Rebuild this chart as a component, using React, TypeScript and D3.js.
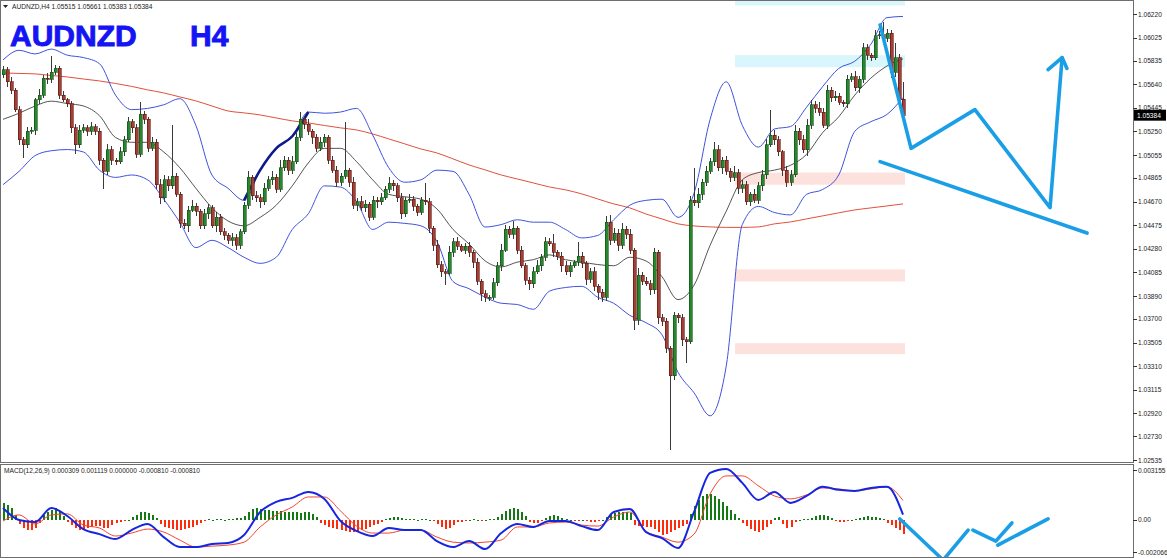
import React from 'react';
import * as d3 from 'd3';

const W = 1167;
const H = 558;

// ---------- candles (AUDNZD H4) ----------
const firstOpen = 1.0572;
const closes = [
  1.0576,1.0566,1.0559,1.0543,1.0518,1.0514,1.0525,1.0526,1.0551,1.0555,
  1.0569,1.0568,1.0574,1.0577,1.0555,1.0551,1.0548,1.0528,1.0514,1.0526,
  1.0528,1.0525,1.0529,1.0525,1.0501,1.0492,1.0510,1.0501,1.0500,1.0508,
  1.0518,1.0533,1.0528,1.0506,1.0539,1.0535,1.0511,1.0516,1.0481,1.0470,
  1.0485,1.0480,1.0488,1.0473,1.0449,1.0447,1.0460,1.0463,1.0459,1.0447,
  1.0457,1.0462,1.0447,1.0454,1.0442,1.0439,1.0435,1.0437,1.0431,1.0442,
  1.0464,1.0487,1.0472,1.0470,1.0467,1.0478,1.0485,1.0487,1.0477,1.0495,
  1.0501,1.0493,1.0500,1.0520,1.0535,1.0531,1.0525,1.0520,1.0511,1.0516,
  1.0520,1.0501,1.0493,1.0483,1.0488,1.0493,1.0483,1.0464,1.0467,1.0462,
  1.0465,1.0454,1.0468,1.0467,1.0470,1.0477,1.0482,1.0480,1.0470,1.0457,
  1.0468,1.0469,1.0463,1.0458,1.0468,1.0467,1.0445,1.0431,1.0415,1.0409,
  1.0408,1.0425,1.0434,1.0430,1.0427,1.0430,1.0425,1.0417,1.0401,1.0391,
  1.0388,1.0388,1.0400,1.0414,1.0427,1.0444,1.0440,1.0445,1.0427,1.0414,
  1.0402,1.0399,1.0409,1.0414,1.0421,1.0434,1.0432,1.0425,1.0422,1.0414,
  1.0409,1.0414,1.0417,1.0422,1.0416,1.0403,1.0409,1.0397,1.0392,1.0388,
  1.0450,1.0435,1.0441,1.0431,1.0444,1.0440,1.0427,1.0369,1.0406,1.0401,
  1.0399,1.0394,1.0425,1.0371,1.0368,1.0346,1.0323,1.0373,1.0371,1.0353,
  1.0351,1.0468,1.0466,1.0473,1.0483,1.0492,1.0500,1.0510,1.0495,1.0501,
  1.0492,1.0487,1.0491,1.0478,1.0481,1.0467,1.0473,1.0468,1.0480,1.0489,
  1.0514,1.0522,1.0518,1.0508,1.0493,1.0483,1.0489,1.0525,1.0518,1.0510,
  1.0530,1.0547,1.0544,1.0541,1.0530,1.0559,1.0553,1.0554,1.0549,1.0548,
  1.0568,1.0570,1.0561,1.0568,1.0594,1.0588,1.0586,1.0604,1.0605,1.0602,
  1.0606,1.0574,1.0586,1.05515,1.05384,
];
// wick lengths beyond the body, in pips
const upperWickPips = [
  3,2,4,2,3, 2,4,3,2,5, 3,4,13,3,2,
  3,2,2,3,4, 3,2,4,2,3, 2,5,3,2,4,
  3,4,2,3,10, 3,2,4,3,5, 4,3,42,3,2,
  4,3,5,3,2, 4,3,2,4,3, 3,2,4,3,2,
  3,5,2,4,3, 4,3,5,3,6, 4,3,5,4,6,
  3,4,2,3,4, 3,2,4,3,3, 40,2,4,3,5,
  3,2,4,3,4, 3,5,3,2,4, 3,4,3,2,3,
  14,3,2,4,3, 2,5,3,4,2, 3,4,2,3,2,
  3,2,4,3,5, 4,3,6,2,3, 2,3,4,5,3,
  4,3,8,2,3, 4,3,2,12,3, 2,3,4,2,3,
  5,6,4,3,5, 3,4,2,6,3, 4,3,4,2,3,
  3,2,3,2,3, 2,4,27,5,3, 4,3,6,4,3,
  4,3,5,3,4, 3,2,4,3,4, 5,21,4,3,2,
  3,4,5,3,4, 5,4,3,5,3, 4,3,4,3,2,
  4,3,5,3,4, 3,2,5,3,10, 4,3,12,3,14.6,
];
const lowerWickPips = [
  3,4,3,2,4, 11,3,2,4,3, 2,4,3,2,3,
  2,3,4,8,3, 2,4,3,3,4, 15,3,4,3,2,
  3,2,4,3,2, 4,3,2,4,5, 3,4,3,2,4,
  3,5,2,4,3, 3,4,2,5,3, 4,3,5,4,3,
  2,3,4,3,5, 3,2,4,3,2, 3,4,3,2,3,
  4,3,5,3,2, 4,3,2,4,3, 2,4,3,5,3,
  4,3,2,5,3, 2,3,4,3,4, 3,2,4,3,2,
  3,4,5,3,4, 10,2,4,3,2, 3,4,5,3,6,
  4,3,2,3,4, 2,3,4,3,2, 4,5,3,2,4,
  3,2,4,3,5, 3,4,2,3,4, 5,3,4,6,4,
  3,4,2,5,3, 4,3,8,4,3, 2,4,3,5,4,
  4,61,3,4,5, 17,2,3,4,5, 3,2,4,3,5,
  3,4,3,5,4, 3,4,2,3,4, 3,2,4,3,5,
  4,3,2,4,3, 5,3,4,3,2, 3,4,3,2,3,
  4,2,3,4,3, 4,3,2,3,4, 3,5,4,3,0,
];

// ---------- indicator lines, one value every 4 bars ----------
const lineStep = 4;
const bbUpper = [
  1.0584,1.0592,1.0589,1.0593,1.0588,1.0586,1.0581,1.0555,1.0543,1.0544,
  1.0547,1.0552,1.0530,1.0489,1.0478,1.0468,1.0493,1.0511,1.0521,1.0541,
  1.0540,1.0541,1.0544,1.0522,1.0495,1.0483,1.0485,1.0493,1.0492,1.0473,
  1.0446,1.0448,1.0452,1.0450,1.0450,1.0444,1.0437,1.0439,1.0452,1.0464,
  1.0468,1.0469,1.0454,1.0474,1.0535,1.0566,1.0530,1.0512,1.0527,1.0529,
  1.0545,1.0562,1.0577,1.0583,1.0597,1.0619,1.0620,
];
const bbMiddle = [
  1.0535,1.0540,1.0546,1.0550,1.0548,1.0546,1.0538,1.0520,1.0516,1.0516,
  1.0508,1.0495,1.0478,1.0462,1.0451,1.0447,1.0454,1.0464,1.0480,1.0499,
  1.0511,1.0511,1.0500,1.0485,1.0473,1.0471,1.0469,1.0461,1.0444,1.0432,
  1.0418,1.0413,1.0417,1.0419,1.0423,1.0419,1.0417,1.0415,1.0414,1.0421,
  1.0418,1.0405,1.0386,1.0398,1.0431,1.0459,1.0485,1.0491,1.0493,1.0497,
  1.0506,1.0524,1.0537,1.0555,1.0569,1.0579,1.0585,
];
const bbLower = [
  1.0481,1.0492,1.0505,1.0509,1.0510,1.0508,1.0493,1.0487,1.0489,1.0485,
  1.0469,1.0450,1.0429,1.0435,1.0429,1.0421,1.0416,1.0421,1.0444,1.0457,
  1.0480,1.0479,1.0467,1.0444,1.0450,1.0449,1.0447,1.0434,1.0401,1.0395,
  1.0388,1.0383,1.0382,1.0378,1.0393,1.0396,1.0397,1.0388,1.0383,1.0373,
  1.0367,1.0357,1.0326,1.0309,1.0290,1.0331,1.0448,1.0463,1.0458,1.0456,
  1.0473,1.0477,1.0489,1.0525,1.0533,1.0539,1.0553,
];
const maSlow = [
  1.05733,1.05729,1.05725,1.05712,1.05700,1.05683,1.05667,1.05646,1.05622,1.05593,
  1.05568,1.05535,1.05502,1.05460,1.05419,1.05403,1.05386,1.05361,1.05337,1.05320,
  1.05299,1.05279,1.05262,1.05229,1.05188,1.05147,1.05105,1.05072,1.05023,1.04973,
  1.04932,1.04890,1.04857,1.04824,1.04791,1.04767,1.04734,1.04692,1.04651,1.04618,
  1.04568,1.04527,1.04486,1.04469,1.04461,1.04457,1.04457,1.04461,1.04486,1.04502,
  1.04527,1.04552,1.04577,1.04601,1.04618,1.04634,1.04651,
];

// ---------- MACD(12,26,9), values in units of 0.00001 ----------
const macdMain = [
  69,0,-12,69,23,-52,-81,-109,-58,-23,
  -98,-155,-155,-138,-132,-86,46,104,127,161,
  121,-6,-63,-92,-46,-58,-58,-121,-155,-121,
  -167,-75,-23,-40,-6,-6,-35,-58,46,63,
  -69,-104,-161,46,270,293,213,115,161,98,
  138,190,173,167,184,190,31,
];
const macdSignal = [
  -6,29,-23,29,35,-29,-46,-92,-75,-52,
  -69,-115,-155,-150,-144,-127,-40,29,75,132,
  132,52,-35,-75,-75,-58,-58,-98,-127,-132,
  -127,-115,-40,-40,-17,-12,-29,-35,17,46,
  -63,-98,-127,-81,150,253,253,196,138,121,
  144,184,178,167,178,190,112,
];
const macdHist = [
  98,86,69,29,-23,-46,-58,-58,-46,-17,
  29,46,58,69,52,23,-12,-29,-46,-58,
  -58,-46,-40,-35,-35,-46,-46,-29,-17,-12,
  -6,0,17,29,46,46,40,29,12,-23,
  -40,-46,-52,-58,-58,-52,-46,-40,-29,-17,
  -6,6,0,6,6,0,6,6,12,12,
  23,46,63,69,63,58,58,52,52,52,
  46,46,46,46,40,46,46,35,17,-17,
  -29,-40,-46,-52,-58,-63,-69,-69,-63,-58,
  -52,-40,-29,-23,-12,6,12,17,17,12,
  6,6,6,0,6,6,0,-6,-23,-40,
  -52,-46,-29,-12,-12,-6,0,6,0,-6,
  0,6,6,17,35,52,63,69,63,46,
  23,-12,-17,-17,-6,12,23,29,23,12,
  6,0,-6,-6,0,-6,-12,-12,-6,0,
  17,29,40,46,46,46,40,-29,-35,-35,
  -40,-40,-52,-69,-86,-81,-69,-58,-46,-35,
  -23,35,81,115,138,150,150,138,121,104,
  81,58,35,12,-17,-35,-52,-63,-69,-58,
  -40,-23,12,17,-23,-46,-40,-12,0,6,
  6,12,23,29,29,23,12,-6,-12,-12,
  -6,0,6,12,17,23,17,17,12,6,
  -17,-29,-46,-58,-81,
];

// ---------- axes ----------
const priceTicks = [
  '1.06220','1.06025','1.05835','1.05640','1.05445','1.05250','1.05055','1.04865','1.04670','1.04475',
  '1.04280','1.04085','1.03890','1.03700','1.03505','1.03310','1.03115','1.02920','1.02730','1.02535',
];
const macdTickLabels = ['0.003155', '0.00', '-0.002066'];
const macdTickValues = [315.5, 0, -206.6];
const lastPrice = 1.05384;

// ---------- drawn zones (bar index range, price range) ----------
const zoneStart = [182.2, 182.2, 182.2, 182.2, 182.2];
const zoneEnd = [224.5, 224.5, 224.5, 224.5, 224.5];
const zoneHigh = [1.0634, 1.0588, 1.0491, 1.0411, 1.0350];
const zoneLow = [1.0629, 1.0578, 1.0481, 1.0401, 1.0341];
const zoneKind = ['supply', 'supply', 'demand', 'demand', 'demand'];

// ---------- hand-drawn projection lines ([bar index, value]) ----------
const projMainA: [number, number][] = [[218.3, 1.0613], [226, 1.0511], [241.9, 1.0543], [260.6, 1.0462], [263.6, 1.0586]];
const projMainArrow: [number, number][] = [[260.1, 1.0576], [263.6, 1.0586], [264.8, 1.0577]];
const projMainB: [number, number][] = [[218.3, 1.0500], [269.8, 1.0441]];
const projMacdA: [number, number][] = [[223.2, 6], [234, -230], [240.2, -58]];
const projMacdB: [number, number][] = [[241.4, -58], [247.1, -121], [251.1, -17]];
const projMacdC: [number, number][] = [[247.6, -144], [260.1, 6]];

const FONT = "'Liberation Sans', Arial, sans-serif";

export default function App() {
  const x = d3.scaleLinear().domain([0, 224]).range([3, 903]);
  const y = d3.scaleLinear().domain([1.02535, 1.0622]).range([460, 14]);
  const ym = d3.scaleLinear().domain([-206.6, 315.5]).range([556, 465]);

  const sampled = (arr: number[], sc: (v: number) => number) =>
    d3.line<number>().x((_, k) => x(k * lineStep)).y((v) => sc(v)).curve(d3.curveMonotoneX)(arr) || '';
  const poly = (pts: [number, number][], sc: (v: number) => number) =>
    d3.line<[number, number]>().x((p) => x(p[0])).y((p) => sc(p[1]))(pts) || '';

  const thickUpper = bbUpper.slice(15, 20);
  const thickPath = d3.line<number>().x((_, k) => x((k + 15) * lineStep)).y((v) => y(v)).curve(d3.curveMonotoneX)(thickUpper) || '';

  const candles = closes.map((c, i) => {
    const o = i === 0 ? firstOpen : closes[i - 1];
    const top = Math.max(o, c);
    const bot = Math.min(o, c);
    const hi = top + upperWickPips[i] * 0.0001;
    const lo = bot - lowerWickPips[i] * 0.0001;
    const cx = Math.round(x(i));
    const yTop = y(top);
    const yBot = y(bot);
    const bull = c >= o;
    return (
      <g key={i}>
        <line x1={cx + 0.5} x2={cx + 0.5} y1={y(hi)} y2={y(lo)} stroke="#3a3a3a" strokeWidth={1} />
        <rect x={cx - 1} y={yTop} width={3} height={Math.max(1, yBot - yTop)}
          fill={bull ? '#2a8530' : '#9e4238'} stroke={bull ? '#0a4f0d' : '#650c06'} strokeWidth={0.6} />
      </g>
    );
  });

  const hist = macdHist.map((v, i) => {
    const cx = Math.round(x(i));
    const y0 = ym(0);
    const y1 = ym(v);
    return (
      <rect key={i} x={cx - 0.5} y={Math.min(y0, y1)} width={2} height={Math.max(0.8, Math.abs(y1 - y0))}
        fill={v >= 0 ? '#157a15' : '#ff2a0a'} />
    );
  });

  const projStyle = { fill: 'none', stroke: '#1a9fe6', strokeWidth: 3.6, strokeLinecap: 'round' as const, strokeLinejoin: 'round' as const };

  return (
    <svg width={W} height={H} style={{ position: 'absolute', left: 0, top: 0, background: '#fff' }} fontFamily={FONT}>
      <defs>
        <clipPath id="mainClip"><rect x={1} y={1} width={1132} height={461} /></clipPath>
        <clipPath id="macdClip"><rect x={1} y={465} width={1132} height={93} /></clipPath>
      </defs>
      <rect x={0} y={0} width={W} height={H} fill="#fff" />

      {/* main panel */}
      <g clipPath="url(#mainClip)">
        {zoneStart.map((s, k) => (
          <rect key={k} x={x(s)} y={y(zoneHigh[k])} width={x(zoneEnd[k]) - x(s)} height={y(zoneLow[k]) - y(zoneHigh[k])}
            fill={zoneKind[k] === 'supply' ? '#d8f6fb' : '#fde1dc'} />
        ))}
        <path d={sampled(maSlow, y)} fill="none" stroke="#e2503c" strokeWidth={1} />
        <path d={sampled(bbUpper, y)} fill="none" stroke="#4052dc" strokeWidth={1} />
        <path d={thickPath} fill="none" stroke="#0e1a8c" strokeWidth={2.6} />
        <path d={sampled(bbLower, y)} fill="none" stroke="#4052dc" strokeWidth={1} />
        <path d={sampled(bbMiddle, y)} fill="none" stroke="#2a2a2a" strokeWidth={0.8} />
        <g shapeRendering="crispEdges">{candles}</g>
        <path d={poly(projMainA, y)} {...projStyle} />
        <path d={poly(projMainArrow, y)} {...projStyle} />
        <path d={poly(projMainB, y)} {...projStyle} />
      </g>

      {/* MACD panel */}
      <g clipPath="url(#macdClip)">
        <g shapeRendering="crispEdges">{hist}</g>
        <path d={sampled(macdSignal, ym)} fill="none" stroke="#f0442e" strokeWidth={1} />
        <path d={sampled(macdMain, ym)} fill="none" stroke="#1626e0" strokeWidth={2} />
        <path d={poly(projMacdA, ym)} {...projStyle} />
        <path d={poly(projMacdB, ym)} {...projStyle} />
        <path d={poly(projMacdC, ym)} {...projStyle} />
      </g>

      {/* panel borders */}
      <g shapeRendering="crispEdges" fill="none" stroke="#6e6e6e">
        <rect x={0.5} y={0.5} width={1133} height={462} />
        <rect x={0.5} y={464.5} width={1133} height={93} />
      </g>

      {/* price axis */}
      <g fontSize={6.6} fill="#222">
        {priceTicks.map((t) => (
          <g key={t}>
            <line x1={1133} x2={1137} y1={Math.round(y(+t)) + 0.5} y2={Math.round(y(+t)) + 0.5} stroke="#333" />
            <text x={1138} y={y(+t)} dominantBaseline="central">{t}</text>
          </g>
        ))}
        <rect x={1134} y={y(lastPrice) - 5.5} width={32} height={11} fill="#000" />
        <text x={1137} y={y(lastPrice)} dominantBaseline="central" fill="#fff">{lastPrice.toFixed(5)}</text>
      </g>

      {/* MACD axis */}
      <g fontSize={6.6} fill="#222">
        {macdTickLabels.map((t, k) => {
          const yy = Math.min(552, Math.max(470, ym(macdTickValues[k])));
          return (
            <g key={t}>
              <line x1={1133} x2={1137} y1={Math.round(yy) + 0.5} y2={Math.round(yy) + 0.5} stroke="#333" />
              <text x={1138} y={yy} dominantBaseline="central">{t}</text>
            </g>
          );
        })}
      </g>

      {/* headers */}
      <path d="M3,5 L8,5 L5.5,8 Z" fill="#222" />
      <text x={12} y={9} fontSize={6.6} fill="#222">AUDNZD,H4  1.05515 1.05661 1.05383 1.05384</text>
      <g fontSize={30} fontWeight="bold" fill="#1414f4" stroke="#1414f4" strokeWidth={0.9}>
        <text x={10} y={46}>AUDNZD</text>
        <text x={190} y={46}>H4</text>
      </g>
      <text x={4} y={473} fontSize={6.6} fill="#222">MACD(12,26,9) 0.000309 0.001119 0.000000 -0.000810 -0.000810</text>
    </svg>
  );
}
